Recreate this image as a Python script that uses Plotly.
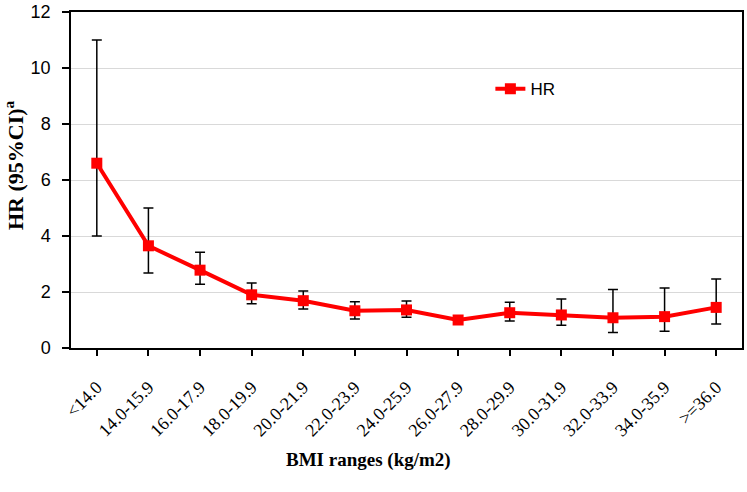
import plotly.graph_objects as go

categories = ["<14.0", "14.0-15.9", "16.0-17.9", "18.0-19.9", "20.0-21.9", "22.0-23.9",
              "24.0-25.9", "26.0-27.9", "28.0-29.9", "30.0-31.9", "32.0-33.9", "34.0-35.9", ">=36.0"]
hr = [6.6, 3.65, 2.78, 1.9, 1.69, 1.33, 1.36, 1.0, 1.26, 1.18, 1.08, 1.12, 1.45]
ci_low = [4.0, 2.68, 2.28, 1.58, 1.39, 1.04, 1.10, 1.0, 0.96, 0.81, 0.55, 0.60, 0.86]
ci_high = [11.0, 5.0, 3.42, 2.32, 2.04, 1.65, 1.68, 1.0, 1.63, 1.75, 2.09, 2.14, 2.46]

err_plus = [h - v for h, v in zip(ci_high, hr)]
err_minus = [v - l for v, l in zip(hr, ci_low)]
x_idx = list(range(len(categories)))

fig = go.Figure()
fig.add_trace(go.Scatter(
    x=x_idx, y=hr, mode="lines+markers", name="HR",
    line=dict(color="#ff0000", width=4),
    marker=dict(symbol="square", size=11, color="#ff0000"),
    error_y=dict(type="data", symmetric=False, array=err_plus, arrayminus=err_minus,
                 color="black", thickness=1.5, width=5),
))

fig.update_layout(
    width=747, height=492,
    margin=dict(l=71, r=5, t=12, b=144),
    paper_bgcolor="white", plot_bgcolor="white",
    showlegend=True,
    legend=dict(x=0.625, y=0.77, xanchor="left", yanchor="middle",
                font=dict(family="Liberation Sans", size=17, color="black"),
                bgcolor="rgba(0,0,0,0)"),
    xaxis=dict(
        automargin=False,
        range=[-0.5, len(categories) - 0.5],
        tickmode="array", tickvals=x_idx, ticktext=categories,
        tickangle=-45, ticks="outside", ticklen=6, tickcolor="black", tickwidth=1.5,
        ticklabelstandoff=14,
        tickfont=dict(family="Liberation Serif", size=18, color="black"),
        showline=True, linecolor="black", linewidth=1.5, mirror=True,
        showgrid=False, zeroline=False,
    ),
    yaxis=dict(
        automargin=False,
        range=[0, 12], dtick=2,
        ticks="outside", ticklen=7, tickcolor="black", tickwidth=1.5,
        ticklabelstandoff=8, ticklabeloverflow="allow",
        tickfont=dict(family="Liberation Sans", size=18, color="black"),
        showline=True, linecolor="black", linewidth=1.5, mirror=True,
        showgrid=True, gridcolor="#d9d9d9", gridwidth=1, zeroline=False,
    ),
    annotations=[
        dict(text="<b>BMI ranges (kg/m2)</b>", xref="paper", yref="paper",
             x=(368 - 71) / 671, y=-(460 - 348) / 336, xanchor="center", yanchor="middle",
             showarrow=False, font=dict(family="Liberation Serif", size=19, color="black")),
        dict(text="<b>HR (95%CI)<sup>a</sup></b>", xref="paper", yref="paper",
             x=-(71 - 14) / 671, y=(348 - 165) / 336, xanchor="center", yanchor="middle",
             textangle=-90, showarrow=False,
             font=dict(family="Liberation Serif", size=22, color="black")),
    ],
)

fig.write_html("out.html", config={"displayModeBar": False},
               post_script="document.body.style.margin='0';")
